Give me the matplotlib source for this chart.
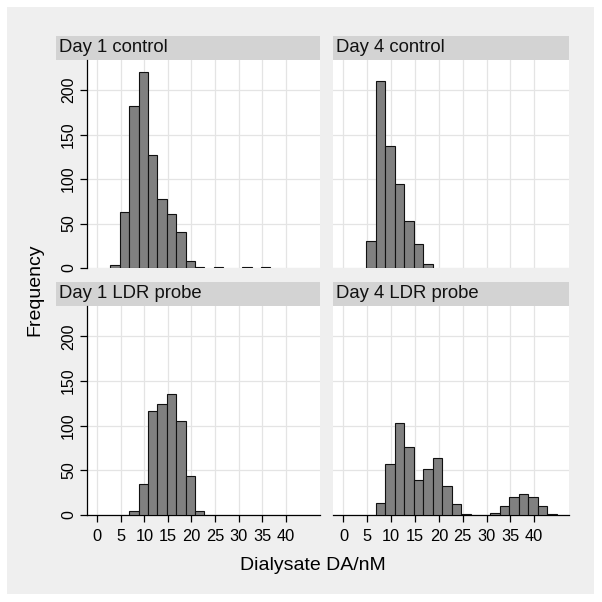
import matplotlib
matplotlib.use("Agg")
import matplotlib.pyplot as plt
from matplotlib.patches import Rectangle

plt.rcParams['font.family'] = ['Liberation Sans', 'DejaVu Sans']

# histogram bins (common to all panels): start 2.75, width 2
bin_start = 2.75
bin_width = 2.0

titles = ["Day 1 control", "Day 4 control", "Day 1 LDR probe", "Day 4 LDR probe"]
# counts per bin, index 0 = [2.75, 4.75)
day1_control = [3, 63, 182, 221, 127, 78, 61, 40, 8, 1, 0, 1, 0, 0, 1, 0, 1]
day4_control = [0, 30, 210, 137, 94, 53, 27, 4]
day1_ldr = [0, 0, 5, 35, 116, 124, 135, 105, 44, 4]
day4_ldr = [0, 0, 13, 57, 103, 76, 39, 52, 64, 32, 12, 1, 0, 0, 2, 10, 20, 23, 20, 10, 1]
counts = [day1_control, day4_control, day1_ldr, day4_ldr]

x_ticks = [0, 5, 10, 15, 20, 25, 30, 35, 40]
y_ticks = [0, 50, 100, 150, 200]

W = 602.0
def fx(x):
    return x / W
def fy(y):
    return 1 - y / W

fig = plt.figure(figsize=(6.02, 6.02), dpi=100)
fig.patch.set_facecolor('white')
fig.patches.append(Rectangle((fx(7), fy(594)), 587 / W, 587 / W, transform=fig.transFigure,
                             facecolor='#efefef', edgecolor='none', zorder=-10))

cols = [(87, 320), (333, 569)]
rows = [(60, 268), (306, 515)]
header_left = [56, 333]
header_h = 24

for i in range(4):
    r, c = divmod(i, 2)
    x0, x1 = cols[c]
    y0, y1 = rows[r]
    ax = fig.add_axes([fx(x0), fy(y1), (x1 - x0) / W, (y1 - y0) / W])
    ax.set_facecolor('white')

    # header strip
    hx = header_left[c]
    fig.patches.append(Rectangle((fx(hx), fy(y0)), (x1 - hx) / W, header_h / W,
                                 transform=fig.transFigure, facecolor='#d3d3d3',
                                 edgecolor='none', zorder=-5))
    fig.text(fx(hx + 3), fy(y0 - header_h / 2), titles[i], ha='left', va='center',
             fontsize=13.3, color='#111111')

    vals = counts[i]
    lefts = [bin_start + k * bin_width for k in range(len(vals))]
    xs = [l for l, v in zip(lefts, vals) if v > 0]
    hs = [v for v in vals if v > 0]
    ax.bar(xs, hs, width=bin_width, align='edge', color='#808080',
           edgecolor='#111111', linewidth=0.8, zorder=3)

    ax.set_xlim(-2.2, 47.3)
    ax.set_ylim(0, 234)
    ax.set_xticks(x_ticks)
    ax.set_yticks(y_ticks)
    ax.grid(True, color='#e4e4e4', linewidth=0.9, zorder=0)
    ax.set_axisbelow(True)

    for s in ax.spines.values():
        s.set_visible(False)

    if c == 0:
        ax.spines['left'].set_visible(True)
        ax.spines['left'].set_linewidth(0.9)
        ax.tick_params(axis='y', length=5, width=0.9, labelsize=11.5, pad=3)
        for lab in ax.get_yticklabels():
            lab.set_rotation(90)
            lab.set_va('center')
    else:
        ax.tick_params(axis='y', length=0, labelleft=False)

    if r == 1:
        ax.spines['bottom'].set_visible(True)
        ax.spines['bottom'].set_linewidth(0.9)
        ax.tick_params(axis='x', length=5, width=0.9, labelsize=11.8, pad=5)
    else:
        ax.tick_params(axis='x', length=0, labelbottom=False)

fig.text(fx(35), fy(290), 'Frequency', rotation=90, ha='center', va='center', fontsize=14)
fig.text(fx(313), fy(566), 'Dialysate DA/nM', ha='center', va='center', fontsize=14)

fig.savefig('out.png', dpi=100, facecolor='white')
